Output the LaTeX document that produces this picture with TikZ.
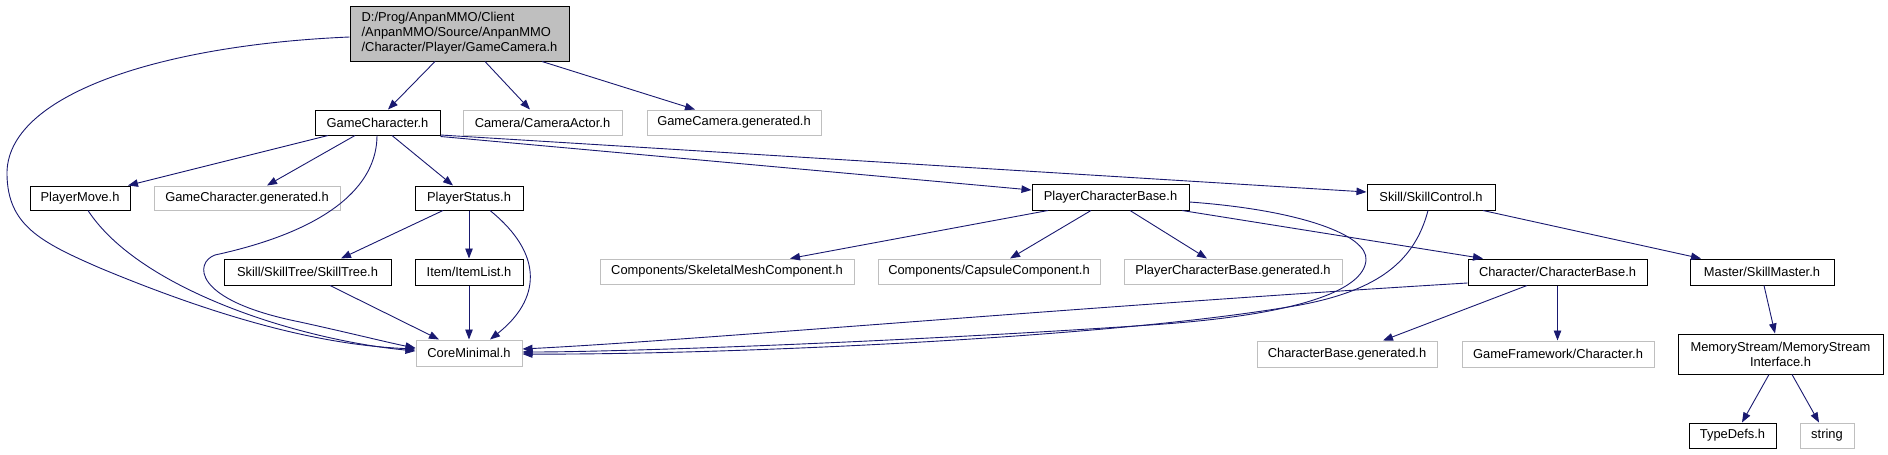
\documentclass[tikz,border=0pt]{standalone}
\usepackage{fontspec}
\setmainfont{Liberation Sans}
\usetikzlibrary{arrows.meta}
\definecolor{edgeblue}{HTML}{191970}
\definecolor{grayline}{HTML}{BFBFBF}
\tikzset{
  box/.style={draw=black, line width=1pt, inner sep=0pt, minimum height=25pt, font=\fontsize{12.9}{15}\selectfont, align=center},
  ubox/.style={box, draw=grayline},
  rootbox/.style={box, fill=grayline, align=left},
  edge/.style={draw=edgeblue, line width=0.9pt, -{Triangle[length=10pt,width=7.5pt]}},
}
\begin{document}
\begin{tikzpicture}[x=1pt,y=1pt]
\useasboundingbox (0,0) rectangle (1888,-455);
% nodes
\node[rootbox, minimum width=219pt, minimum height=55pt] (root) at (459.5,-33.5) {D:/Prog/AnpanMMO/Client\\/AnpanMMO/Source/AnpanMMO\\/Character/Player/GameCamera.h};
\node[box, minimum width=125pt] (gc) at (377.5,-122.5) {GameCharacter.h};
\node[ubox, minimum width=159pt] (camactor) at (542.5,-122.5) {Camera/CameraActor.h};
\node[ubox, minimum width=174pt] (gcamgen) at (734,-122.5) {GameCamera.generated.h};
\node[box, minimum width=100pt, minimum height=24pt] (pmove) at (80,-198) {PlayerMove.h};
\node[ubox, minimum width=186pt, minimum height=24pt] (gcgen) at (247,-198) {GameCharacter.generated.h};
\node[box, minimum width=108pt, minimum height=24pt] (pstatus) at (469,-198) {PlayerStatus.h};
\node[box, minimum width=157pt, minimum height=26pt] (pcb) at (1110.5,-197) {PlayerCharacterBase.h};
\node[box, minimum width=128pt, minimum height=26pt] (skillctrl) at (1431,-197) {Skill/SkillControl.h};
\node[box, minimum width=167pt, minimum height=26pt] (skilltree) at (307.5,-272) {Skill/SkillTree/SkillTree.h};
\node[box, minimum width=108pt, minimum height=26pt] (itemlist) at (469,-272) {Item/ItemList.h};
\node[ubox, minimum width=254pt] (skel) at (727,-271.5) {Components/SkeletalMeshComponent.h};
\node[ubox, minimum width=222pt] (capsule) at (989,-271.5) {Components/CapsuleComponent.h};
\node[ubox, minimum width=218pt] (pcbgen) at (1233,-271.5) {PlayerCharacterBase.generated.h};
\node[box, minimum width=179pt, minimum height=26pt] (charbase) at (1557.5,-272) {Character/CharacterBase.h};
\node[box, minimum width=144pt, minimum height=26pt] (skillmaster) at (1762,-272) {Master/SkillMaster.h};
\node[ubox, minimum width=106pt, minimum height=26pt] (coremin) at (469,-353) {CoreMinimal.h};
\node[ubox, minimum width=180pt, minimum height=26pt] (cbgen) at (1347,-354) {CharacterBase.generated.h};
\node[ubox, minimum width=192pt, minimum height=26pt] (gfchar) at (1558,-354) {GameFramework/Character.h};
\node[box, minimum width=205pt, minimum height=40pt] (memstream) at (1780.5,-354) {MemoryStream/MemoryStream\\Interface.h};
\node[box, minimum width=87pt] (typedefs) at (1732.5,-435.5) {TypeDefs.h};
\node[ubox, minimum width=54pt] (string) at (1827,-435.5) {string};
% edges from root
\draw[edge] ([xshift=-24.5pt]root.south) -- ([xshift=10.5pt]gc.north);
\draw[edge] ([xshift=25.5pt]root.south) -- ([xshift=-12.5pt]camactor.north);
\draw[edge] ([xshift=82.5pt]root.south) -- ([xshift=-39pt]gcamgen.north);
\draw[edge] ([yshift=-3.5pt]root.west) .. controls (160,-45) and (5,-95) .. (7,-175)
   .. controls (8,-225) and (40,-242) .. (100,-268)
   .. controls (220,-318) and (320,-345) .. ([yshift=4pt]coremin.west);
% edges from GameCharacter
\draw[edge] ([xshift=-49.5pt]gc.south) -- ([xshift=48pt]pmove.north);
\draw[edge] ([xshift=-22.5pt]gc.south) -- ([xshift=20pt]gcgen.north);
\draw[edge] ([xshift=14.5pt]gc.south) -- ([xshift=-16pt]pstatus.north);
\draw[edge] ([xshift=-0.5pt]gc.south) .. controls (377,-185) and (330,-230) .. (215,-255)
   .. controls (195,-262) and (190,-300) .. (300,-322)
   .. controls (350,-333) and (390,-343) .. ([yshift=5pt]coremin.west);
\draw[edge] ([yshift=-1pt]gc.south east) -- ([yshift=7pt]pcb.west);
\draw[edge] ([yshift=0.5pt]gc.south east) -- ([yshift=5pt]skillctrl.west);
% PlayerMove
\draw[edge] ([xshift=8pt]pmove.south) .. controls (140,-290) and (300,-340) .. ([yshift=2pt]coremin.west);
% PlayerStatus
\draw[edge] ([xshift=-26pt]pstatus.south) -- ([xshift=33.5pt]skilltree.north);
\draw[edge] (pstatus.south) -- (itemlist.north);
\draw[edge] ([xshift=21pt]pstatus.south) .. controls (545,-255) and (540,-300) .. ([xshift=21pt]coremin.north);
\draw[edge] ([xshift=22.5pt]skilltree.south) -- ([xshift=-30pt]coremin.north);
\draw[edge] (itemlist.south) -- (coremin.north);
% PlayerCharacterBase
\draw[edge] ([xshift=-62.5pt]pcb.south) -- ([xshift=63pt]skel.north);
\draw[edge] ([xshift=-19.5pt]pcb.south) -- ([xshift=21pt]capsule.north);
\draw[edge] ([xshift=19.5pt]pcb.south) -- ([xshift=-26pt]pcbgen.north);
\draw[edge] ([xshift=71.5pt]pcb.south) -- ([xshift=-74.5pt]charbase.north);
\draw[edge] ([yshift=-5pt]pcb.east) .. controls (1300,-210) and (1368,-235) .. (1366,-260)
   .. controls (1364,-290) and (1300,-315) .. (1150,-325)
   .. controls (900,-342) and (620,-352) .. ([yshift=1pt]coremin.east);
% SkillControl
\draw[edge] ([xshift=52pt]skillctrl.south) -- ([xshift=-61pt]skillmaster.north);
\draw[edge] ([xshift=-3pt]skillctrl.south) .. controls (1415,-260) and (1380,-290) .. (1300,-305)
   .. controls (1100,-340) and (700,-355) .. ([yshift=-1pt]coremin.east);
% CharacterBase
\draw[edge] ([yshift=-11pt]charbase.west) .. controls (1100,-305) and (700,-340) .. ([yshift=4pt]coremin.east);
\draw[edge] ([xshift=-30.5pt]charbase.south) -- ([xshift=36pt]cbgen.north);
\draw[edge] (charbase.south) -- (charbase.south |- gfchar.north);
% SkillMaster / MemoryStream
\draw[edge] ([xshift=2pt]skillmaster.south) -- ([xshift=-5.5pt]memstream.north);
\draw[edge] ([xshift=-11.5pt]memstream.south) -- ([xshift=9.5pt]typedefs.north);
\draw[edge] ([xshift=11.5pt]memstream.south) -- ([xshift=-8pt]string.north);
\end{tikzpicture}
\end{document}
